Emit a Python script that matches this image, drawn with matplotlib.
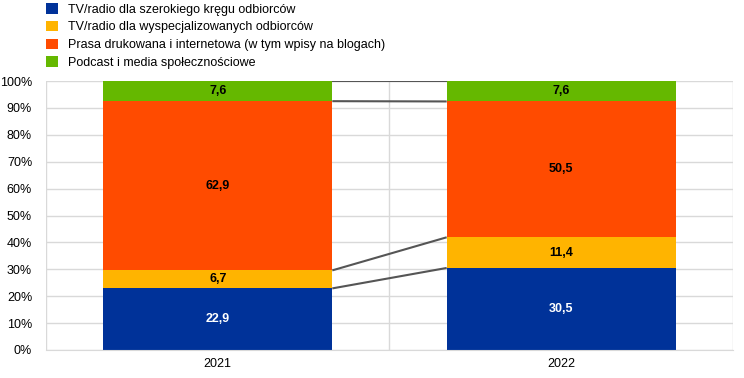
import numpy as np
import matplotlib.pyplot as plt
from matplotlib.patches import Patch

plt.rcParams['font.family'] = ['Liberation Sans', 'DejaVu Sans']

years = ['2021', '2022']
series_names = [
    'TV/radio dla szerokiego kręgu odbiorców',
    'TV/radio dla wyspecjalizowanych odbiorców',
    'Prasa drukowana i internetowa (w tym wpisy na blogach)',
    'Podcast i media społecznościowe',
]
tv_broad = [22.9, 30.5]
tv_special = [6.7, 11.4]
press = [62.9, 50.5]
podcast = [7.6, 7.6]
colors = ['#003299', '#FFB400', '#FF4B00', '#65B800']
label_colors = ['white', 'black', 'black', 'black']


def fmt(v):
    return f'{v:.1f}'.replace('.', ',')


fig = plt.figure(figsize=(7.44, 3.78), dpi=100)
ax = fig.add_axes([46 / 744, 28 / 378, 687 / 744, 269 / 378])

x = np.arange(len(years))
width = 0.667
bottom = np.zeros(len(years))
tops = []
for vals, col, tcol in zip([tv_broad, tv_special, press, podcast], colors, label_colors):
    vals = np.array(vals)
    ax.bar(x, vals, width, bottom=bottom, color=col, zorder=2)
    for xi, v, b in zip(x, vals, bottom):
        ax.text(xi, b + v / 2, fmt(v), ha='center', va='center', color=tcol,
                fontsize=9, fontweight='bold', zorder=4)
    bottom = bottom + vals
    tops.append(bottom.copy())

# connector lines between bars
for lvl in tops:
    lvl = np.minimum(lvl, 100)
    ax.plot([x[0] + width / 2, x[1] - width / 2], [lvl[0], lvl[1]],
            color='#555555', lw=1.5, zorder=3, solid_capstyle='butt')

ax.set_xlim(-0.5, 1.5)
ax.set_ylim(0, 100)
ax.set_yticks(np.arange(0, 101, 10))
ax.set_yticklabels([f'{t}%' for t in range(0, 101, 10)])
ax.set_xticks(x)
ax.set_xticklabels(years)
ax.set_xticks([-0.5, 0.5, 1.5], minor=True)
ax.grid(axis='y', color='#d9d9d9', lw=1, zorder=0)
ax.grid(axis='x', which='minor', color='#d9d9d9', lw=1, zorder=0)
ax.tick_params(axis='both', which='both', length=0, labelsize=9, colors='black')
ax.tick_params(axis='y', pad=10)
ax.tick_params(axis='x', pad=6)
for side in ['top', 'left', 'right']:
    ax.spines[side].set_visible(False)
ax.spines['bottom'].set_color('#d9d9d9')

handles = [Patch(facecolor=c, edgecolor='none') for c in colors]
fig.legend(handles, series_names, loc='upper left', bbox_to_anchor=(40 / 744, 1.008),
           frameon=False, fontsize=9, handlelength=0.9, handleheight=0.9,
           handletextpad=0.85, labelspacing=0.42, borderaxespad=0.1)

fig.savefig('out.png', dpi=100)
